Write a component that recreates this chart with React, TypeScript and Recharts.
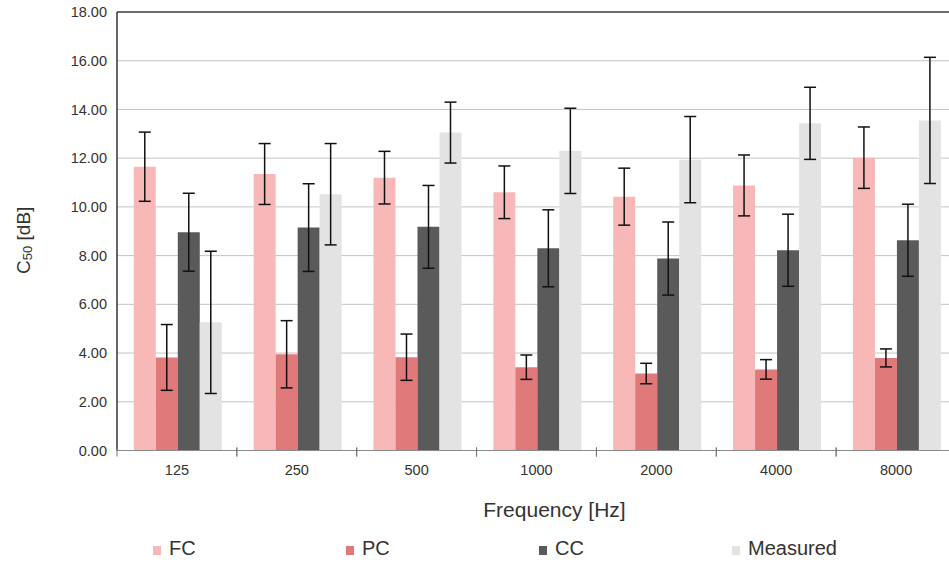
import React from 'react';
import { BarChart, Bar, XAxis, YAxis, CartesianGrid, ErrorBar, Legend, ReferenceLine } from 'recharts';

const categories = ['125', '250', '500', '1000', '2000', '4000', '8000'];
const seriesNames = ['FC', 'PC', 'CC', 'Measured'];
const fc = [11.65, 11.35, 11.2, 10.6, 10.42, 10.88, 12.02];
const fcErr = [1.42, 1.25, 1.08, 1.08, 1.17, 1.25, 1.26];
const pc = [3.82, 3.95, 3.83, 3.42, 3.16, 3.33, 3.8];
const pcErr = [1.35, 1.38, 0.95, 0.5, 0.42, 0.4, 0.37];
const cc = [8.96, 9.15, 9.18, 8.3, 7.88, 8.22, 8.63];
const ccErr = [1.6, 1.8, 1.7, 1.58, 1.5, 1.48, 1.48];
const measured = [5.26, 10.52, 13.05, 12.3, 11.94, 13.43, 13.55];
const measuredErr = [2.92, 2.08, 1.25, 1.75, 1.77, 1.48, 2.59];
const yTicks = [0, 2, 4, 6, 8, 10, 12, 14, 16, 18];

const data = categories.map((c, i) => ({
  freq: c,
  FC: fc[i], fcErr: fcErr[i],
  PC: pc[i], pcErr: pcErr[i],
  CC: cc[i], ccErr: ccErr[i],
  Measured: measured[i], measuredErr: measuredErr[i],
}));

const FONT = '"Liberation Sans", Arial, sans-serif';
const TEXT = '#333';
const TICK_SIZE = 6;
const TICK_MARGIN = 8;

const XTick = (props: any) => {
  const { x, y, payload } = props;
  const off = payload && payload.offset != null ? payload.offset : 0;
  const axisY = y - TICK_SIZE - TICK_MARGIN;
  return (
    <g>
      <line x1={x - off} x2={x - off} y1={axisY - 3} y2={axisY + 6} stroke="#777" strokeWidth={1} />
      <line x1={x + off} x2={x + off} y1={axisY - 3} y2={axisY + 6} stroke="#777" strokeWidth={1} />
      <text x={x} y={y} dy="0.71em" textAnchor="middle" fontSize={14.5} fill={TEXT} fontFamily={FONT}>
        {payload.value}
      </text>
    </g>
  );
};

const YLabel = (props: any) => {
  const vb = props.viewBox || {};
  const cx = 23;
  const cy = (vb.y || 0) + (vb.height || 0) / 2 + 9;
  return (
    <text x={cx} y={cy} transform={`rotate(-90, ${cx}, ${cy})`} textAnchor="middle" dominantBaseline="central"
      fontSize={19} fill={TEXT} fontFamily={FONT}>
      C<tspan fontSize={13} dy={4}>50</tspan><tspan dy={-4}> [dB]</tspan>
    </text>
  );
};

const XLabel = (props: any) => {
  const vb = props.viewBox || {};
  const cx = (vb.x || 0) + (vb.width || 0) / 2 + 18;
  const cy = (vb.y || 0) + 66;
  return (
    <text x={cx} y={cy} textAnchor="middle" fontSize={21} fill={TEXT} fontFamily={FONT}>
      Frequency [Hz]
    </text>
  );
};

const LegendContent = (props: any) => {
  const items = [...(props.payload || [])].sort(
    (a: any, b: any) => seriesNames.indexOf(a.value) - seriesNames.indexOf(b.value)
  );
  return (
    <div style={{ display: 'flex', paddingLeft: 153, height: 33, alignItems: 'center', fontFamily: FONT }}>
      {items.map((it: any) => (
        <div key={it.value} style={{ width: 193, display: 'flex', alignItems: 'center' }}>
          <span style={{ display: 'inline-block', width: 8, height: 9, background: it.color, marginRight: 8, marginTop: 3 }} />
          <span style={{ fontSize: 20, color: TEXT }}>{it.value}</span>
        </div>
      ))}
    </div>
  );
};

export default function App() {
  return (
    <div style={{ position: 'absolute', left: 0, top: 0, width: 949, height: 565, overflow: 'hidden', background: '#fff' }}>
      <BarChart
        width={980}
        height={565}
        data={data}
        margin={{ top: 12, right: 24, left: 0, bottom: 0 }}
        barCategoryGap="14%"
        barGap={0}
      >
        <CartesianGrid vertical={false} stroke="#C4C4C4" />
        <XAxis
          dataKey="freq"
          height={81.5}
          tick={<XTick />}
          tickLine={false}
          tickSize={TICK_SIZE}
          tickMargin={TICK_MARGIN}
          axisLine={{ stroke: '#8a8a8a', strokeWidth: 1.2 }}
          interval={0}
          label={<XLabel />}
        />
        <YAxis
          width={117}
          domain={[0, 18]}
          ticks={yTicks}
          interval={0}
          tickFormatter={(v: number) => v.toFixed(2)}
          tick={{ fontSize: 14.5, fill: TEXT, fontFamily: FONT }}
          tickLine={false}
          tickMargin={4}
          axisLine={{ stroke: '#333', strokeWidth: 1.5 }}
          label={<YLabel />}
        />
        <ReferenceLine y={18} stroke="#444" strokeWidth={1.5} />
        <Bar dataKey="FC" name="FC" fill="#F9B8B8" isAnimationActive={false}>
          <ErrorBar dataKey="fcErr" width={6} stroke="#111" strokeWidth={1.5} />
        </Bar>
        <Bar dataKey="PC" name="PC" fill="#E07A7A" isAnimationActive={false}>
          <ErrorBar dataKey="pcErr" width={6} stroke="#111" strokeWidth={1.5} />
        </Bar>
        <Bar dataKey="CC" name="CC" fill="#5A5A5A" isAnimationActive={false}>
          <ErrorBar dataKey="ccErr" width={6} stroke="#111" strokeWidth={1.5} />
        </Bar>
        <Bar dataKey="Measured" name="Measured" fill="#E3E3E3" isAnimationActive={false}>
          <ErrorBar dataKey="measuredErr" width={6} stroke="#111" strokeWidth={1.5} />
        </Bar>
        <Legend
          verticalAlign="bottom"
          content={<LegendContent />}
          wrapperStyle={{ left: 0, top: 532, width: 949, height: 33 }}
        />
      </BarChart>
    </div>
  );
}
